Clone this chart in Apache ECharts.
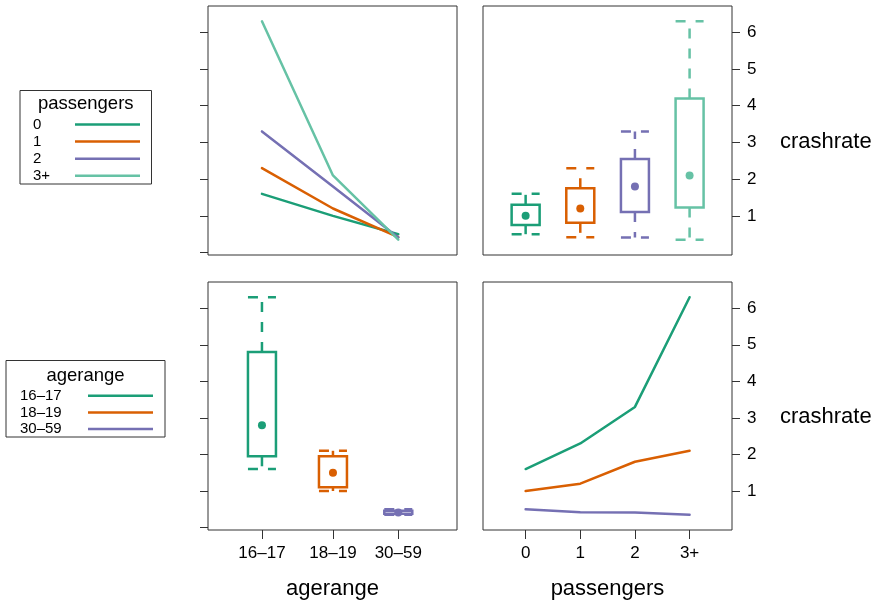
<!DOCTYPE html>
<html>
<head>
<meta charset="utf-8">
<script src="https://cdn.jsdelivr.net/npm/echarts@6/dist/echarts.min.js"></script>
<style>
html,body{margin:0;padding:0;background:#fff;}
#chart{width:879px;height:603px;}
</style>
</head>
<body>
<div id="chart"></div>
<script>
// ---- data ----
const ageRanges = ['16\u201317', '18\u201319', '30\u201359'];
const agePos = [1, 2, 2.92];
const passengers = ['0', '1', '2', '3+'];
const passPos = [0, 1, 2, 3];
const rate1617 = [1.6, 2.3, 3.3, 6.3];
const rate1819 = [1.0, 1.2, 1.8, 2.1];
const rate3059 = [0.5, 0.42, 0.41, 0.35];
const yTicks = [1, 2, 3, 4, 5, 6];
const yTicksLeft = [0, 1, 2, 3, 4, 5, 6];
const passColors = ['#1B9E77', '#D95F02', '#7570B3', '#66C2A5'];
const ageColors = ['#1B9E77', '#D95F02', '#7570B3'];

const rates = [rate1617, rate1819, rate3059]; // rows: agerange, cols: passengers

// ---- helpers ----
function fivenum(arr) {
  const x = arr.slice().sort((a, b) => a - b);
  const n = x.length;
  const n4 = Math.floor((n + 3) / 2) / 2;
  const d = [1, n4, (n + 1) / 2, n + 1 - n4, n];
  return d.map(v => 0.5 * (x[Math.floor(v) - 1] + x[Math.ceil(v) - 1]));
}
const allVals = rates.flat();
const dMin = Math.min(...allVals), dMax = Math.max(...allVals);
const pad = 0.07 * (dMax - dMin);
const yMin = dMin - pad, yMax = dMax + pad;

const FONT = '"Liberation Sans", Arial, Helvetica, sans-serif';
const TXT = '#000';
const LINE = '#333';

function renderBox(colors) {
  return function (params, api) {
    const x = api.value(0);
    const pMin = api.coord([x, api.value(1)]);
    const pQ1 = api.coord([x, api.value(2)]);
    const pMed = api.coord([x, api.value(3)]);
    const pQ3 = api.coord([x, api.value(4)]);
    const pMax = api.coord([x, api.value(5)]);
    const hw = 14;
    const c = colors[params.dataIndex];
    const cx = pMed[0];
    const dash = { stroke: c, lineWidth: 2.5, lineDash: [10, 10], fill: null };
    return {
      type: 'group',
      children: [
        { type: 'line', shape: { x1: cx, y1: pQ3[1], x2: cx, y2: pMax[1] }, style: dash },
        { type: 'line', shape: { x1: cx, y1: pQ1[1], x2: cx, y2: pMin[1] }, style: dash },
        { type: 'line', shape: { x1: cx - hw, y1: pMax[1], x2: cx + hw, y2: pMax[1] }, style: dash },
        { type: 'line', shape: { x1: cx - hw, y1: pMin[1], x2: cx + hw, y2: pMin[1] }, style: dash },
        { type: 'rect', shape: { x: cx - hw, y: pQ3[1], width: 2 * hw, height: pQ1[1] - pQ3[1] },
          style: { stroke: c, lineWidth: 2.5, fill: 'rgba(0,0,0,0)' } },
        { type: 'circle', shape: { cx: cx, cy: pMed[1], r: 4 }, style: { fill: c } }
      ]
    };
  };
}

// box data
const boxByPass = passengers.map((p, j) => [passPos[j]].concat(fivenum(rates.map(r => r[j]))));
const boxByAge = ageRanges.map((a, i) => [agePos[i]].concat(fivenum(rates[i])));

// ---- layout ----
const PL = 208, PR = 483, PW = 249;
const grids = [
  { left: PL, top: 6, width: PW, height: 249 },
  { left: PR, top: 6, width: PW, height: 249 },
  { left: PL, top: 282, width: PW, height: 248 },
  { left: PR, top: 282, width: PW, height: 248 }
].map(g => Object.assign({ show: true, borderColor: LINE, borderWidth: 1, backgroundColor: 'transparent', containLabel: false }, g));

function xAxisDef(gi, pos, labels, min, max, show, name) {
  return {
    type: 'value', gridIndex: gi, min: min, max: max, position: 'bottom',
    splitLine: { show: false }, axisLine: { show: false, onZero: false },
    axisTick: { show: show, length: 9, customValues: pos, lineStyle: { color: LINE, width: 1 } },
    axisLabel: {
      show: show, customValues: pos, margin: 15, color: TXT, fontSize: 17, fontFamily: FONT,
      formatter: v => { const k = pos.findIndex(p => Math.abs(p - v) < 1e-6); return k >= 0 ? labels[k] : ''; }
    },
    name: show ? name : '', nameLocation: 'middle', nameGap: 48,
    nameTextStyle: { color: TXT, fontSize: 22, fontFamily: FONT }
  };
}
function yAxisDef(gi, side) {
  const right = side === 'right';
  return {
    type: 'value', gridIndex: gi, min: yMin, max: yMax, position: side,
    splitLine: { show: false }, axisLine: { show: false, onZero: false },
    axisTick: { show: true, length: 8, customValues: right ? yTicks : yTicksLeft, lineStyle: { color: LINE, width: 1 } },
    axisLabel: { show: right, customValues: yTicks, margin: 15, color: TXT, fontSize: 17, fontFamily: FONT },
    name: right ? 'crashrate' : '', nameLocation: 'middle', nameRotate: 0, nameGap: 48,
    nameTextStyle: { color: TXT, fontSize: 22, fontFamily: FONT, align: 'left', verticalAlign: 'top' }
  };
}

const xAxes = [
  xAxisDef(0, agePos, ageRanges, 0.24, 3.747, false, ''),
  xAxisDef(1, passPos, passengers, -0.78, 3.776, false, ''),
  xAxisDef(2, agePos, ageRanges, 0.24, 3.747, true, 'agerange'),
  xAxisDef(3, passPos, passengers, -0.78, 3.776, true, 'passengers')
];
const yAxes = [yAxisDef(0, 'left'), yAxisDef(1, 'right'), yAxisDef(2, 'left'), yAxisDef(3, 'right')];

const series = [];
// top-left: lines per passengers across agerange
passengers.forEach((p, j) => {
  series.push({
    type: 'line', name: 'passengers ' + p, xAxisIndex: 0, yAxisIndex: 0,
    data: ageRanges.map((a, i) => [agePos[i], rates[i][j]]),
    showSymbol: false, symbol: 'none', silent: true,
    lineStyle: { color: passColors[j], width: 2.5, cap: 'round', join: 'round' }, z: 2 + j
  });
});
// bottom-right: lines per agerange across passengers
ageRanges.forEach((a, i) => {
  series.push({
    type: 'line', name: 'agerange ' + a, xAxisIndex: 3, yAxisIndex: 3,
    data: passengers.map((p, j) => [passPos[j], rates[i][j]]),
    showSymbol: false, symbol: 'none', silent: true,
    lineStyle: { color: ageColors[i], width: 2.5, cap: 'round', join: 'round' }, z: 2 + i
  });
});
// top-right: boxes by passengers
series.push({
  type: 'custom', xAxisIndex: 1, yAxisIndex: 1, renderItem: renderBox(passColors),
  data: boxByPass, encode: { x: 0, y: [1, 2, 3, 4, 5] }, silent: true, clip: false
});
// bottom-left: boxes by agerange
series.push({
  type: 'custom', xAxisIndex: 2, yAxisIndex: 2, renderItem: renderBox(ageColors),
  data: boxByAge, encode: { x: 0, y: [1, 2, 3, 4, 5] }, silent: true, clip: false
});

// ---- legends (graphic) ----
function legendGraphic(title, labels, colors, box, titleY, itemY0, step, textX, lineX1, lineX2) {
  const els = [];
  els.push({ type: 'rect', shape: box, style: { fill: '#fff', stroke: LINE, lineWidth: 1 }, z: 10 });
  els.push({ type: 'text', x: box.x + box.width / 2, y: titleY,
    style: { text: title, fill: TXT, font: '18.5px ' + FONT, textAlign: 'center', textVerticalAlign: 'middle' }, z: 11 });
  labels.forEach((l, k) => {
    const y = itemY0 + k * step;
    els.push({ type: 'text', x: textX, y: y,
      style: { text: l, fill: TXT, font: '15px ' + FONT, textAlign: 'left', textVerticalAlign: 'middle' }, z: 11 });
    els.push({ type: 'line', shape: { x1: lineX1, y1: y, x2: lineX2, y2: y },
      style: { stroke: colors[k], lineWidth: 2.5 }, z: 11 });
  });
  return els;
}
const graphics = [].concat(
  legendGraphic('passengers', passengers, passColors, { x: 20, y: 90.5, width: 131.5, height: 93.5 }, 104, 124.5, 17.1, 33, 75, 140),
  legendGraphic('agerange', ageRanges, ageColors, { x: 6, y: 360.5, width: 159, height: 76.5 }, 376, 395.8, 16.6, 20, 88, 153)
);

const chart = echarts.init(document.getElementById('chart'), null, { renderer: 'canvas' });
chart.setOption({
  animation: false,
  backgroundColor: '#fff',
  textStyle: { fontFamily: FONT },
  grid: grids,
  xAxis: xAxes,
  yAxis: yAxes,
  series: series,
  graphic: graphics
});
</script>
</body>
</html>
